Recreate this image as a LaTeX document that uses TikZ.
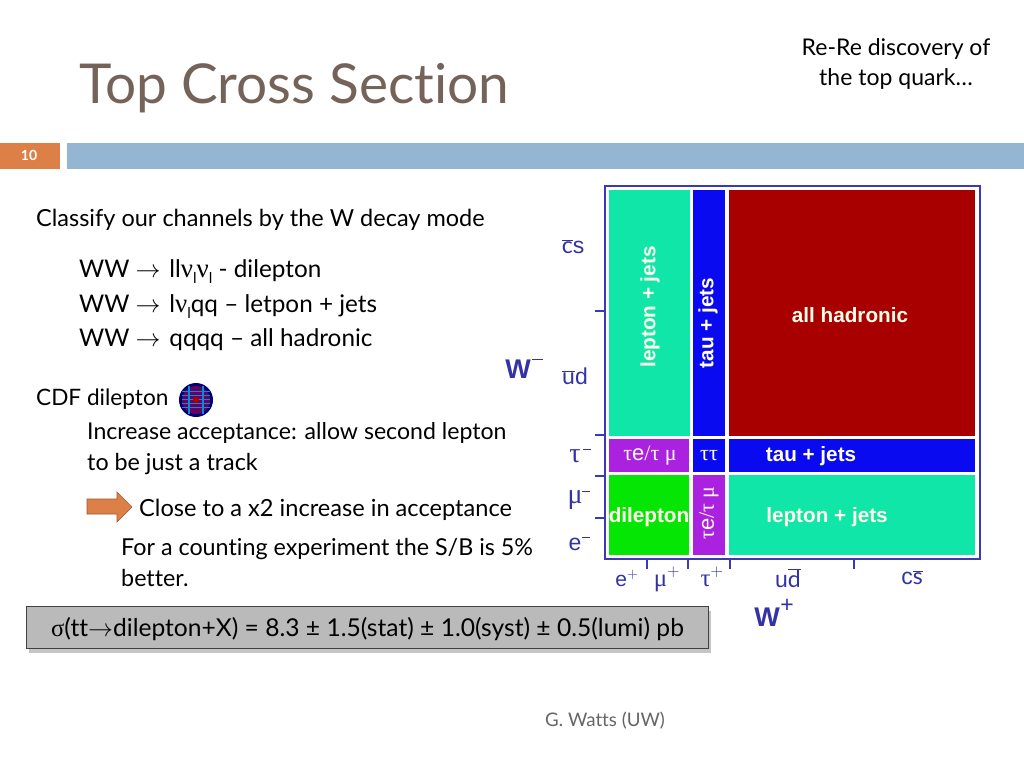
\documentclass[tikz,border=0pt]{standalone}
\usepackage{fontspec}
\setmainfont[Ligatures={NoCommon}]{Lato}
\newfontfamily\lsans{Liberation Sans}
\newfontfamily\lserif{Liberation Serif}
\usetikzlibrary{shadows}
\definecolor{titlecol}{HTML}{75635A}
\definecolor{barblue}{HTML}{94B6D2}
\definecolor{barorange}{HTML}{DD8047}
\definecolor{framecol}{HTML}{3A3AB8}
\definecolor{labcol}{HTML}{3333A5}
\definecolor{tealcell}{HTML}{0FE6A8}
\definecolor{bluecell}{HTML}{0A0AF0}
\definecolor{redcell}{HTML}{A80000}
\definecolor{purplecell}{HTML}{AA22E0}
\definecolor{greencell}{HTML}{05E605}
\newcommand{\gk}[1]{{\lserif #1}}
\newcommand{\nuu}{{\lserif\fontsize{27}{27}\selectfont ν}}
\newcommand{\lowsub}[1]{\raisebox{-0.25em}{\fontsize{15}{15}\selectfont #1}}
\newcommand{\arr}{$\rightarrow$}
\newcommand{\wwarr}{\hspace{6pt}\arr\hspace{9pt}}
\tikzset{
  x=1pt,y=-1pt,
  body/.style={anchor=base west,inner sep=0pt,font=\fontsize{23.3}{26}\selectfont,text=black},
  wwline/.style={body,font=\fontsize{24.3}{26}\selectfont},
  celltext/.style={inner sep=0pt,text=white!92!yellow,font=\lsans\bfseries\fontsize{20.7}{22}\selectfont},
  greektext/.style={inner sep=0pt,text=white!92!yellow,font=\lserif\fontsize{22}{24}\selectfont},
  axlab/.style={inner sep=0pt,text=labcol,font=\lsans\fontsize{23}{26}\selectfont},
  axgreek/.style={inner sep=0pt,text=labcol,font=\lserif\fontsize{28}{30}\selectfont},
  wlab/.style={inner sep=0pt,text=labcol,font=\lsans\bfseries\fontsize{27}{30}\selectfont},
  axtick/.style={draw=framecol,line width=2pt},
  minusbar/.style={draw=labcol,line width=.8pt},
}
\begin{document}
\begin{tikzpicture}
\useasboundingbox (0,0) rectangle (1024,768);
\fill[white] (0,0) rectangle (1024,768);
\node[anchor=base west,inner sep=0pt,text=titlecol,font=\fontsize{55}{60}\selectfont] (title) at (79,103) {Top Cross Section};
\node[inner sep=0pt,align=center,font=\fontsize{23}{30.5}\selectfont,anchor=north] (sub) at (896,38) {Re-Re discovery of\\the top quark…};
\fill[barorange] (0,143) rectangle (60,169);
\fill[barblue] (67,143) rectangle (1024,169);
\node[text=white,font=\bfseries\fontsize{14}{16}\selectfont,inner sep=0pt] (num) at (29,155) {10};

\node[body,font=\fontsize{23.5}{26}\selectfont] (t1) at (36,226) {Classify our channels by the W decay mode};
\node[wwline] (t2) at (79,277) {WW\wwarr ll\nuu\lowsub{l}\nuu\lowsub{l} - dilepton};
\node[wwline] (t3) at (79,312) {WW\wwarr l\nuu\lowsub{l}qq – letpon + jets};
\node[wwline] (t4) at (79,346) {WW\wwarr qqqq – all hadronic};
\node[body,font=\fontsize{22.6}{26}\selectfont] (t5) at (36,405) {CDF dilepton};
\node[body,font=\fontsize{23.1}{26}\selectfont] (t6) at (87,439) {Increase acceptance: allow second lepton};
\node[body] (t7) at (87,470) {to be just a track};
\node[body,font=\fontsize{23.6}{26}\selectfont] (t8) at (139,516) {Close to a x2 increase in acceptance};
\node[body] (t9) at (121,555) {For a counting experiment the S/B is 5\%};
\node[body] (t10) at (121,586) {better.};

% CDF logo
\node[circle,fill=blue!45!black,minimum size=34pt,inner sep=0pt] (logo) at (196,400) {};
\fill[violet!80!black] (196,400) circle (14);
\foreach \yy in {391,395,399,403,407}{\draw[cyan!70!blue,line width=.5pt] (182,\yy) -- (210,\yy);}
\foreach \xx in {189,203}{\draw[cyan!70!blue,line width=2pt] (\xx,386) -- (\xx,414);}
\fill[red!70!black] (196,400) circle (3);

% arrow
\fill[barorange,draw=barorange!70!black,line width=.6pt] (87,499) -- (117,499) -- (117,492) -- (132,507) -- (117,522) -- (117,514) -- (87,514) -- cycle;

% box
\node[anchor=north west,minimum width=682pt,minimum height=42pt,inner sep=0pt,fill=black!27,draw=black!75,line width=1.4pt,drop shadow={shadow xshift=2pt,shadow yshift=-4pt,opacity=.45}] (res) at (26,606) {};
\node[body,font=\fontsize{24.6}{26}\selectfont] (rest) at (51,636) {\gk{σ}(tt\arr{}dilepton+X) = 8.3 ± 1.5(stat) ± 1.0(syst) ± 0.5(lumi) pb};

\node[inner sep=0pt,text=black!60,font=\fontsize{18.7}{20}\selectfont] (sig) at (605,721) {G. Watts (UW)};

% frame
\draw[framecol,line width=2pt] (605,186) rectangle (979.5,559);
\foreach \yy in {311,435,476,518}{\draw[axtick] (595,\yy) -- (605,\yy);}
\foreach \xx in {647,688,730,854}{\draw[axtick] (\xx,559) -- (\xx,569);}
% cells
\fill[tealcell] (609,190) rectangle (690,436);
\fill[bluecell] (693,190) rectangle (725,436);
\fill[redcell] (729,190) rectangle (975,436);
\fill[purplecell] (609,439) rectangle (689,472);
\fill[bluecell] (693,439) rectangle (725,472);
\fill[bluecell] (729,439) rectangle (975,472);
\fill[greencell] (609,475) rectangle (689,555);
\fill[purplecell] (693,475) rectangle (725,555);
\fill[tealcell] (729,475) rectangle (975,555);
\node[celltext,rotate=90] (c1) at (650,307) {lepton + jets};
\node[celltext,rotate=90] (c2) at (708,323) {tau + jets};
\node[celltext] (c3) at (850,315) {all hadronic};
\node[greektext] (c4) at (650,456) {τ{\lsans e}/τ μ};
\node[greektext] (c5) at (709,456) {ττ};
\node[celltext] (c6) at (811,456) {tau + jets};
\node[celltext] (c7) at (649,517) {dilepton};
\node[greektext,rotate=90] (c8) at (709,513) {τ{\lsans e}/τ μ};
\node[celltext] (c9) at (827,517) {lepton + jets};

% axis labels
\node[axlab] (cs) at (573,247) {$\overline{\mathrm{c}}$s};
\node[axlab] (ud) at (575,376) {$\overline{\mathrm{u}}$d};
\node[wlab] (wm) at (518,369) {W};
\draw[minusbar] (532,359) -- (543,359);
\node[axgreek] (tm) at (575,456) {τ};
\draw[minusbar] (583,449) -- (591,449);
\node[axgreek] (mm) at (575,500) {μ};
\draw[minusbar] (582,491) -- (590,491);
\node[axlab] (em) at (575,544) {e};
\draw[minusbar] (582,537) -- (590,537);
\node[axlab,anchor=base,font=\lsans\fontsize{21}{24}\selectfont] (ep) at (627,586) {e$^{+}$};
\node[axgreek,anchor=base,font=\lserif\fontsize{25}{28}\selectfont] (mp) at (667,586) {μ$^{+}$};
\node[axgreek,anchor=base,font=\lserif\fontsize{25}{28}\selectfont] (tp) at (712,586) {τ$^{+}$};
\node[axlab] (udb) at (788,578) {u$\overline{\mathrm{d}}$};
\node[axlab] (csb) at (912,578) {c$\overline{\mathrm{s}}$};
\node[wlab] (wp) at (767,617) {W};
\node[axlab] (wps) at (787,606) {+};
\end{tikzpicture}
\end{document}
